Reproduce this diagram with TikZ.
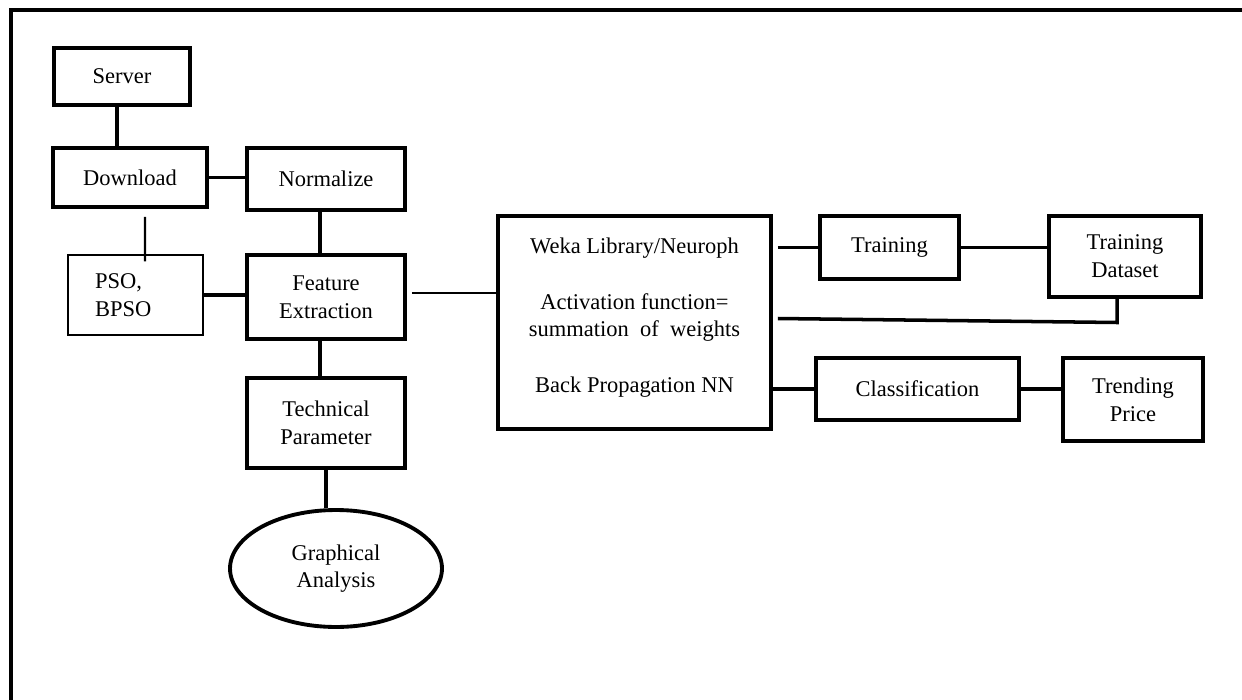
\documentclass[tikz,border=0pt]{standalone}
\usepackage{fontspec}
\setmainfont{Liberation Serif}
\usepackage{tikz}
\usetikzlibrary{shapes.geometric, positioning, calc}

\begin{document}
\begin{tikzpicture}[x=0.02cm, y=-0.02cm, every node/.style={font=\fontsize{12.8}{15.8}\selectfont}]
    % Styles
    \tikzstyle{block} = [rectangle, draw, line width=2.2pt, align=center, inner sep=2pt]
    \tikzstyle{thinblock} = [rectangle, draw, line width=0.75pt, align=left]
    \tikzstyle{oval} = [ellipse, draw, line width=2.2pt, align=center, inner sep=0pt]
    \tikzstyle{link} = [draw, line width=2pt]
    \tikzstyle{thinlink} = [draw, line width=1.3pt]

    \useasboundingbox (0,0) rectangle (1242,700);
    % Frame
    \draw[line width=2.3pt] (11,702) -- (11,10) -- (1244,10);

    % Nodes
    \node[block, minimum width=2.72cm, minimum height=1.14cm] (server) at (122,76.5) {Server};
    \node[block, minimum width=3.08cm, minimum height=1.18cm] (download) at (130,177.5) {Download};
    \node[block, minimum width=3.16cm, minimum height=1.24cm] (normalize) at (326,179) {Normalize};
    \node[thinblock, text width=1.62cm, inner xsep=0.54cm, minimum height=1.60cm] (pso) at (135.5,295) {PSO,\\BPSO};
    \node[block, minimum width=3.16cm, minimum height=1.68cm] (feature) at (326,297) {Feature\\Extraction};
    \node[block, minimum width=3.16cm, minimum height=1.80cm] (technical) at (326,423) {Technical\\Parameter};
    \node[oval, minimum width=4.24cm, minimum height=2.34cm] (graphical) at (336,568.5) {Graphical\\Analysis};
    \node[block, minimum width=5.46cm, minimum height=4.26cm] (weka) at (634.5,322.5)
        {Weka Library/Neuroph\\[15.9pt]Activation function=\\summation\ \ of\ \ weights\\[15.9pt]Back Propagation NN\rule[-8.4pt]{0pt}{8.4pt}};
    \node[block, minimum width=2.78cm, minimum height=1.26cm] (training) at (889.5,247.5) {Training};
    \node[block, minimum width=3.04cm, minimum height=1.62cm] (dataset) at (1125,256.5) {Training\\Dataset};
    \node[block, minimum width=4.06cm, minimum height=1.24cm] (classification) at (917.5,389) {Classification};
    \node[block, minimum width=2.80cm, minimum height=1.66cm] (trending) at (1133,399.5) {Trending\\Price};

    % Connections
    \draw[link] ([xshift=-0.1cm]server.south) -- ([xshift=-0.1cm]server.south |- download.north);
    \draw[link] (download.east) -- (normalize.west |- download.east);
    \draw[thinlink] ($(download.south)+(15,8)$) -- ($(pso.north)+(9.5,7)$);
    \draw[link] ([xshift=-0.12cm]normalize.south) -- ([xshift=-0.12cm]normalize.south |- feature.north);
    \draw[link] (pso.east) -- (feature.west |- pso.east);
    \draw[thinlink] ($(feature.east)+(5,-4)$) -- (weka.west |- {$(feature.east)+(5,-4)$});
    \draw[link] ([xshift=-0.12cm]feature.south) -- ([xshift=-0.12cm]feature.south |- technical.north);
    \draw[link] (technical.south) -- (technical.south |- graphical.north);
    \draw[link] ([xshift=0.1cm]weka.east |- training.west) -- (training.west);
    \draw[link] (training.east) -- (dataset.west |- training.east);
    \draw[link] ($(weka.east)+(5,-4)$) -- ([xshift=-0.16cm]dataset.south |- weka.east) -- ([xshift=-0.16cm]dataset.south);
    \draw[link] (weka.east |- classification.west) -- (classification.west);
    \draw[link] (classification.east) -- (trending.west |- classification.east);
\end{tikzpicture}
\end{document}
